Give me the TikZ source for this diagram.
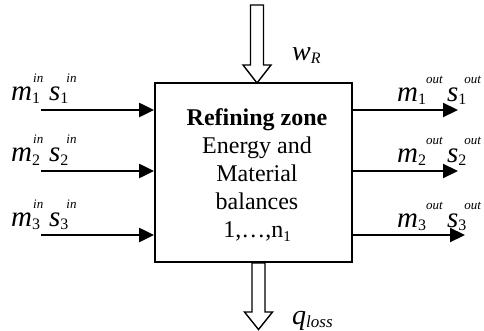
\documentclass[tikz,border=0pt]{standalone}
\usepackage{fontspec}
\setmainfont{Liberation Serif}
\usetikzlibrary{arrows.meta}
% variable, subscript, superscript, shift of superscript
\newcommand\lblq[4]{{\fontsize{29}{29}\selectfont\itshape #1}\rlap{\raisebox{-3pt}{\fontsize{16}{16}\selectfont #2}}\rlap{\hspace{#4}\raisebox{18pt}{\fontsize{13}{13}\selectfont\itshape #3}}}
\begin{document}
\begin{tikzpicture}[x=1pt,y=-1pt,
  flow/.style={line width=2.2pt,-{Triangle[length=15pt,width=14pt]}},
  hollow/.style={draw,line width=1.4pt,fill=white,line join=miter},
  lbl/.style={anchor=base west,inner sep=0pt}]
\useasboundingbox (0,0) rectangle (484,331);
\node[draw,line width=1.8pt,minimum width=197pt,minimum height=179pt,inner sep=0pt] (zone) at (253.5,172.5) {};
\node[align=center,font=\fontsize{24}{28}\selectfont,anchor=base,inner sep=0pt] (txt) at (257,237)
  {\textbf{Refining zone}\\Energy and\\Material\\balances\\1,\dots,n\raisebox{-4pt}{\fontsize{15}{15}\selectfont 1}};
% inputs
\coordinate (in1) at (41,110);
\coordinate (in2) at (41,171);
\coordinate (in3) at (41,235);
\draw[flow] (in1) -- (zone.west |- in1);
\draw[flow] (in2) -- (zone.west |- in2);
\draw[flow] (in3) -- (zone.west |- in3);
% outputs
\coordinate (out1) at (458,110);
\coordinate (out2) at (458,171);
\coordinate (out3) at (465,235);
\draw[flow] (zone.east |- out1) -- (out1);
\draw[flow] (zone.east |- out2) -- (out2);
\draw[flow] (zone.east |- out3) -- (out3);
% labels
\node[lbl] (l1) at (11,101) {\lblq{m}{1}{in}{1pt}\hspace{17pt}\lblq{s}{1}{in}{6pt}};
\node[lbl] (l2) at (11,162) {\lblq{m}{2}{in}{1pt}\hspace{17pt}\lblq{s}{2}{in}{6pt}};
\node[lbl] (l3) at (11,226) {\lblq{m}{3}{in}{1pt}\hspace{17pt}\lblq{s}{3}{in}{6pt}};
\node[lbl] (r1) at (397,102) {\lblq{m}{1}{out}{8pt}\hspace{29pt}\lblq{s}{1}{out}{6pt}};
\node[lbl] (r2) at (397,163) {\lblq{m}{2}{out}{8pt}\hspace{29pt}\lblq{s}{2}{out}{6pt}};
\node[lbl] (r3) at (397,227) {\lblq{m}{3}{out}{8pt}\hspace{29pt}\lblq{s}{3}{out}{6pt}};
% hollow arrows
\draw[hollow] (250.5,5) -- (263.5,5) -- (263.5,65) -- (271,65) -- (257,83) -- (243,65) -- (250.5,65) -- cycle;
\draw[hollow] (252,263) -- (265,263) -- (265,312) -- (272.5,312) -- (258.5,329.5) -- (244.5,312) -- (252,312) -- cycle;
\node[lbl] (w) at (292,61) {{\fontsize{28}{28}\selectfont\itshape w}\raisebox{-3pt}{\fontsize{16}{16}\selectfont\itshape R}};
\node[lbl] (q) at (292,324) {{\fontsize{28}{28}\selectfont\itshape q}\raisebox{-3pt}{\fontsize{17}{17}\selectfont\itshape loss}};
\end{tikzpicture}
\end{document}
